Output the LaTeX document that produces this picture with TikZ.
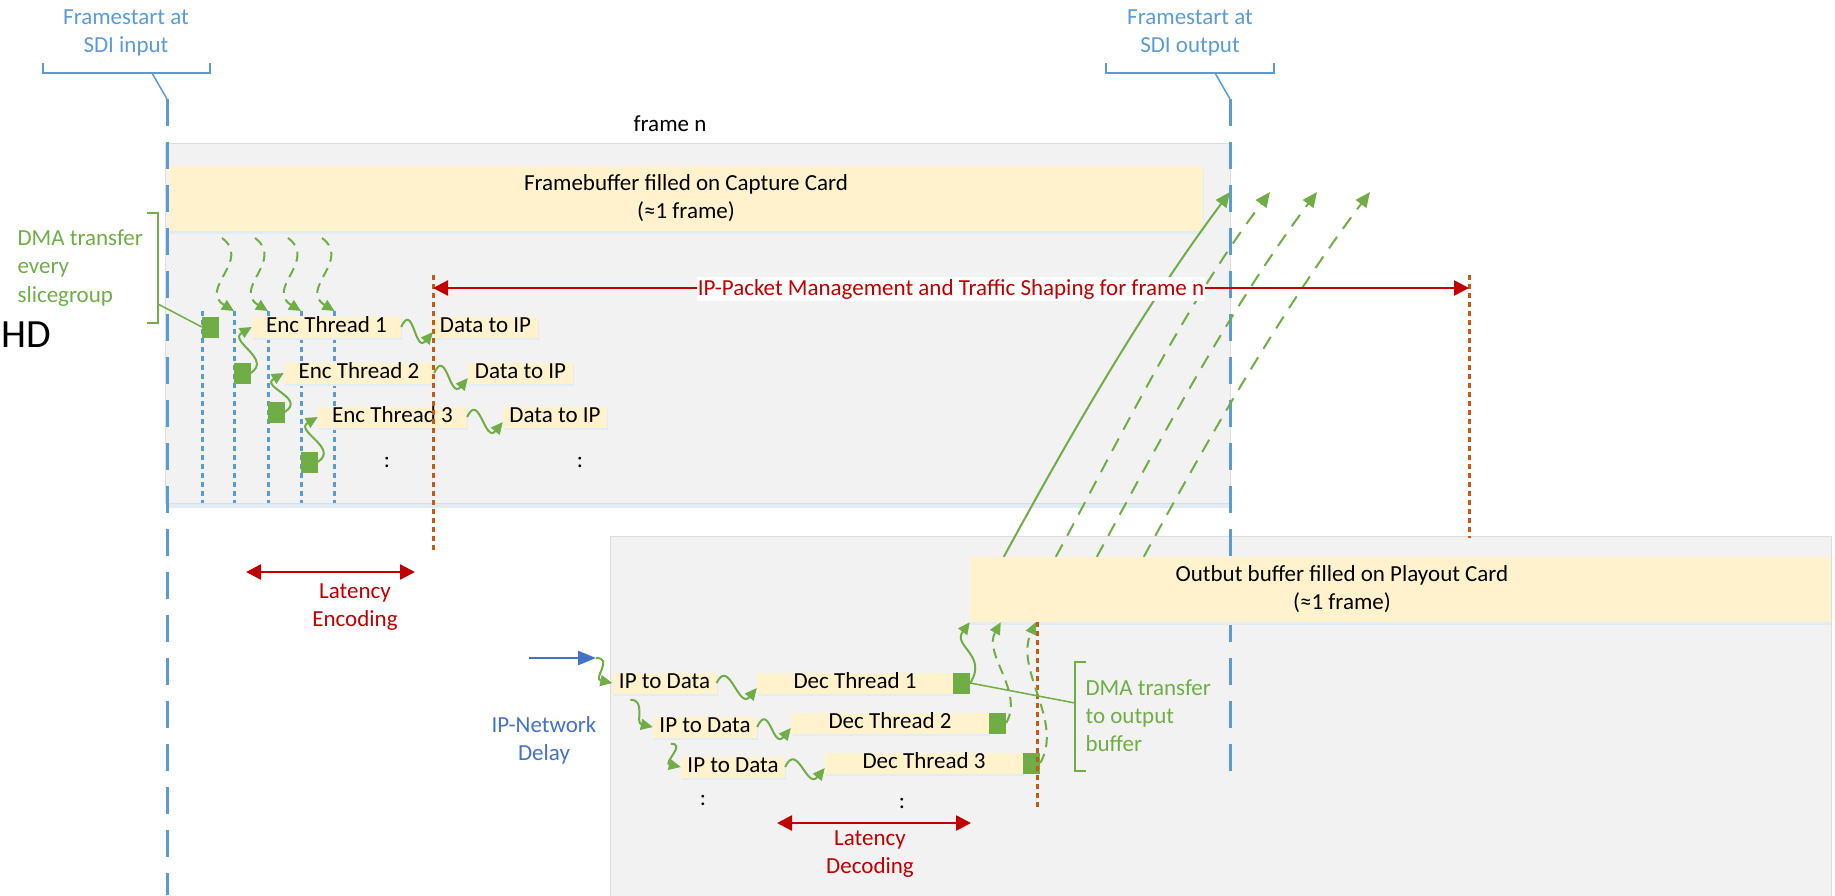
\documentclass[tikz,border=0pt]{standalone}
\usepackage{fontspec}
\setmainfont{Carlito}
\usetikzlibrary{arrows.meta,calc}
\definecolor{sdiblue}{HTML}{5B9BD5}
\definecolor{netblue}{HTML}{4472C4}
\definecolor{grn}{HTML}{70AD47}
\definecolor{dred}{HTML}{C00000}
\definecolor{orng}{HTML}{C55A11}
\definecolor{ylw}{HTML}{FFF2CC}
\definecolor{panelgray}{HTML}{F2F2F2}
\definecolor{panelline}{HTML}{DDDDDD}
\definecolor{shadowblue}{HTML}{E3EBF5}
\begin{document}
\begin{tikzpicture}[x=1pt,y=-1pt,
  font=\fontsize{23}{28}\selectfont,
  ybox/.style={fill=ylw, inner xsep=0pt, inner ysep=0pt, text height=15.5pt, text depth=5pt,
    minimum height=21pt, preaction={fill=shadowblue, transform canvas={xshift=1pt,yshift=-2pt}}},
  gsq/.style={fill=grn, inner sep=0pt, minimum width=16.5pt, minimum height=21pt},
  garrow/.style={draw=grn, line width=2pt, -{Triangle[length=12pt,width=11pt]}},
  gdash/.style={garrow, dash pattern=on 10pt off 7pt},
  bigarrow/.style={draw=grn, line width=2pt, -{Triangle[length=15pt,width=13pt]}},
  bigdash/.style={bigarrow, dash pattern=on 14pt off 10pt},
  rarrow/.style={draw=dred, line width=2.5pt, {Triangle[length=15pt,width=15pt]}-{Triangle[length=15pt,width=15pt]}},
  barrow/.style={draw=netblue, line width=2.5pt, -{Triangle[length=18pt,width=14pt]}},
  bdash/.style={draw=sdiblue, line width=3pt, dash pattern=on 27pt off 16pt},
  bdot/.style={draw=sdiblue, line width=3pt, dash pattern=on 5pt off 4pt},
  odot/.style={draw=orng, line width=3pt, dash pattern=on 5pt off 4pt},
  bline/.style={draw=sdiblue, line width=1.5pt},
  gline/.style={draw=grn, line width=1.5pt}]
\useasboundingbox (0,0) rectangle (1835,895);

% panels
\fill[shadowblue] (166,147) rectangle (1231,508);
\filldraw[fill=panelgray, draw=panelline, line width=1pt] (165,143) rectangle (1230,503);
\filldraw[fill=panelgray, draw=panelline, line width=1pt] (610,536) rectangle (1831,900);

% SDI frame start lines
\draw[bdash] (167,99) -- (167,895);
\draw[bdash] (1230,99) -- (1230,782);
\draw[bline] (43,63) -- (43,73) -- (210,73) -- (210,63);
\draw[bline] (152,73) -- (167,99);
\draw[bline] (1106,63) -- (1106,73) -- (1274,73) -- (1274,63);
\draw[bline] (1215,73) -- (1230,99);
\node[align=center, text=sdiblue] (fsin) at (126,33) {Framestart at\\SDI input};
\node[align=center, text=sdiblue] (fsout) at (1190,33) {Framestart at\\SDI output};

\node (fn) at (670,124) {frame n};
\node[font=\fontsize{40}{40}\selectfont, anchor=west, inner sep=0pt] (hd) at (1,335) {HD};

% big yellow buffers
\node[fill=ylw, minimum width=1034pt, minimum height=65pt, inner sep=0pt, align=center,
  preaction={fill=shadowblue, transform canvas={xshift=1pt,yshift=-3pt}}] (fb) at (686,198.5)
  {Framebuffer filled on Capture Card\\(≈1 frame)};
\node[fill=ylw, minimum width=861pt, minimum height=65pt, inner sep=0pt,
  preaction={fill=shadowblue, transform canvas={xshift=0pt,yshift=-3pt}}] (ob) at (1400.5,589.5) {};
\node[align=center] (obt) at (1342,589) {Outbut buffer filled on Playout Card\\(≈1 frame)};

% slice dotted lines
\coordinate (d1t) at (202,311); \coordinate (d1b) at (202,503);
\coordinate (d2t) at (234,311); \coordinate (d2b) at (234,503);
\coordinate (d3t) at (268,311); \coordinate (d3b) at (268,503);
\coordinate (d4t) at (301,311); \coordinate (d4b) at (301,503);
\coordinate (d5t) at (334.5,311); \coordinate (d5b) at (334.5,503);
\foreach \i in {1,...,5} {\draw[bdot] (d\i t) -- (d\i b);}

% encoder side
\node[ybox, minimum width=149pt] (enc1) at (326.5,327) {Enc Thread 1};
\node[ybox, minimum width=150pt] (enc2) at (359,373) {Enc Thread 2};
\node[ybox, minimum width=149pt] (enc3) at (392.5,417) {Enc Thread 3};
\node[ybox, minimum width=105pt] (dat1) at (485.5,327) {Data to IP};
\node[ybox, minimum width=105pt] (dat2) at (520.5,373) {Data to IP};
\node[ybox, minimum width=104pt] (dat3) at (555,417) {Data to IP};
\node[gsq] (sq1) at (210.25,327) {};
\node[gsq] (sq2) at (242.25,373) {};
\node[gsq] (sq3) at (276.25,412) {};
\node[gsq] (sq4) at (309.25,462) {};
\node (col1) at (387,462) {:};
\node (col2) at (580,462) {:};

% decoder side
\node[ybox, minimum width=104pt] (ip1) at (664.5,683) {IP to Data};
\node[ybox, minimum width=104pt] (ip2) at (705,727) {IP to Data};
\node[ybox, minimum width=104pt] (ip3) at (733,767) {IP to Data};
\node[ybox, minimum width=196pt] (dec1) at (855,683) {Dec Thread 1};
\node[ybox, minimum width=198pt] (dec2) at (890,723) {Dec Thread 2};
\node[ybox, minimum width=198pt] (dec3) at (924,763) {Dec Thread 3};
\node[gsq, minimum width=17pt] (dsq1) at (961.5,683) {};
\node[gsq, minimum width=17pt] (dsq2) at (997.5,723) {};
\node[gsq, minimum width=17pt] (dsq3) at (1031.5,763) {};
\node (col3) at (703,800) {:};
\node (col4) at (902,803) {:};

% orange markers
\draw[odot] (433,275) -- (433,552);
\draw[odot] (1469,275) -- (1469,538);
\draw[odot] (1037,622) -- (1037,807);

% green flow arrows (encoder)
\coordinate (s1) at (222,238); \coordinate (s2) at (255,238);
\coordinate (s3) at (288,238); \coordinate (s4) at (322,238);
\draw[gdash] (s1) .. controls +(30,22) and +(-36,-22) .. (d2t);
\draw[gdash] (s2) .. controls +(30,22) and +(-36,-22) .. (d3t);
\draw[gdash] (s3) .. controls +(30,22) and +(-36,-22) .. (d4t);
\draw[gdash] (s4) .. controls +(30,22) and +(-36,-22) .. (d5t);
\draw[garrow] (sq2.east) .. controls +(22,-14) and +(-24,14) .. (enc1.west);
\draw[garrow] (sq3.east) .. controls +(22,-14) and +(-24,14) .. (enc2.west);
\draw[garrow] (sq4.east) .. controls +(22,-14) and +(-24,14) .. (enc3.west);
\draw[garrow] (enc1.east) .. controls +(12,-26) and +(-18,22) .. ([shift={(0,5)}]dat1.west);
\draw[garrow] (enc2.east) .. controls +(12,-26) and +(-18,22) .. ([shift={(0,5)}]dat2.west);
\draw[garrow] (enc3.east) .. controls +(12,-26) and +(-18,22) .. ([shift={(0,5)}]dat3.west);

% DMA bracket (input)
\draw[gline] (147,213) -- (158,213) -- (158,323) -- (147,323);
\coordinate (dmab1) at (158,304);
\draw[gline] (dmab1) -- (sq1.west);
\node[anchor=west, align=left, text=grn, font=\fontsize{23}{28.5}\selectfont] (dma1) at (14,268) {DMA transfer\\every\\slicegroup};

% network input
\coordinate (netsrc) at (529,658); \coordinate (netin) at (596,658);
\draw[barrow] (netsrc) -- (netin);
\node[align=center, text=netblue] (ipnd) at (544,740) {IP-Network\\Delay};
\draw[garrow] (netin) .. controls +(18,0) and +(-20,-4) .. (ip1.west);
\draw[garrow] ([shift={(18,6)}]ip1.south west) .. controls +(16,0) and +(-18,-4) .. (ip2.west);
\draw[garrow] ([shift={(18,6)}]ip2.south west) .. controls +(16,0) and +(-18,-4) .. (ip3.west);
\draw[garrow] (ip1.east) .. controls +(12,-26) and +(-18,22) .. ([shift={(0,5)}]dec1.west);
\draw[garrow] (ip2.east) .. controls +(12,-26) and +(-18,22) .. ([shift={(0,5)}]dec2.west);
\draw[garrow] (ip3.east) .. controls +(12,-26) and +(-18,22) .. ([shift={(0,5)}]dec3.west);

% DMA to output buffer
\draw[garrow] (dsq1.east) .. controls +(18,-28) and +(-18,24) .. (ob.south west);
\draw[gdash] (dsq2.east) .. controls +(18,-32) and +(-18,32) .. ([shift={(31,0)}]ob.south west);
\draw[gdash] (dsq3.east) .. controls +(24,-42) and +(-22,48) .. ([shift={(66,0)}]ob.south west);
\draw[gline] (1086,662) -- (1075,662) -- (1075,771) -- (1086,771);
\coordinate (dmab2) at (1075,703);
\draw[gline] (dsq1.east) -- (dmab2);
\node[anchor=west, align=left, text=grn] (dma2) at (1082,716) {DMA transfer\\to output\\buffer};

% output buffer to frame
\coordinate (t1) at (1230,192); \coordinate (t2) at (1270,192);
\coordinate (t3) at (1317,192); \coordinate (t4) at (1370,192);
\draw[bigarrow] ([shift={(34,0)}]ob.north west) .. controls +(60,-110) and +(-90,120) .. (t1);
\draw[bigdash] ([shift={(86,0)}]ob.north west) .. controls +(60,-110) and +(-90,120) .. (t2);
\draw[bigdash] ([shift={(127,0)}]ob.north west) .. controls +(60,-110) and +(-90,120) .. (t3);
\draw[bigdash] ([shift={(174,0)}]ob.north west) .. controls +(60,-110) and +(-90,120) .. (t4);

% latencies
\coordinate (ipm1) at (433,288); \coordinate (ipm2) at (1469,288);
\draw[rarrow] (ipm1) -- (ipm2);
\node[fill=white, text=dred, inner xsep=1pt, inner ysep=2pt] (rlab) at (951,289)
  {IP-Packet Management and Traffic Shaping for frame n};
\coordinate (le1) at (246,572); \coordinate (le2) at (415,572);
\draw[rarrow] (le1) -- (le2);
\node[align=center, text=dred] (lenc) at (355,607) {Latency\\Encoding};
\coordinate (ld1) at (777,823); \coordinate (ld2) at (971,823);
\draw[rarrow] (ld1) -- (ld2);
\node[align=center, text=dred] (ldec) at (870,854) {Latency\\Decoding};
\end{tikzpicture}
\end{document}
